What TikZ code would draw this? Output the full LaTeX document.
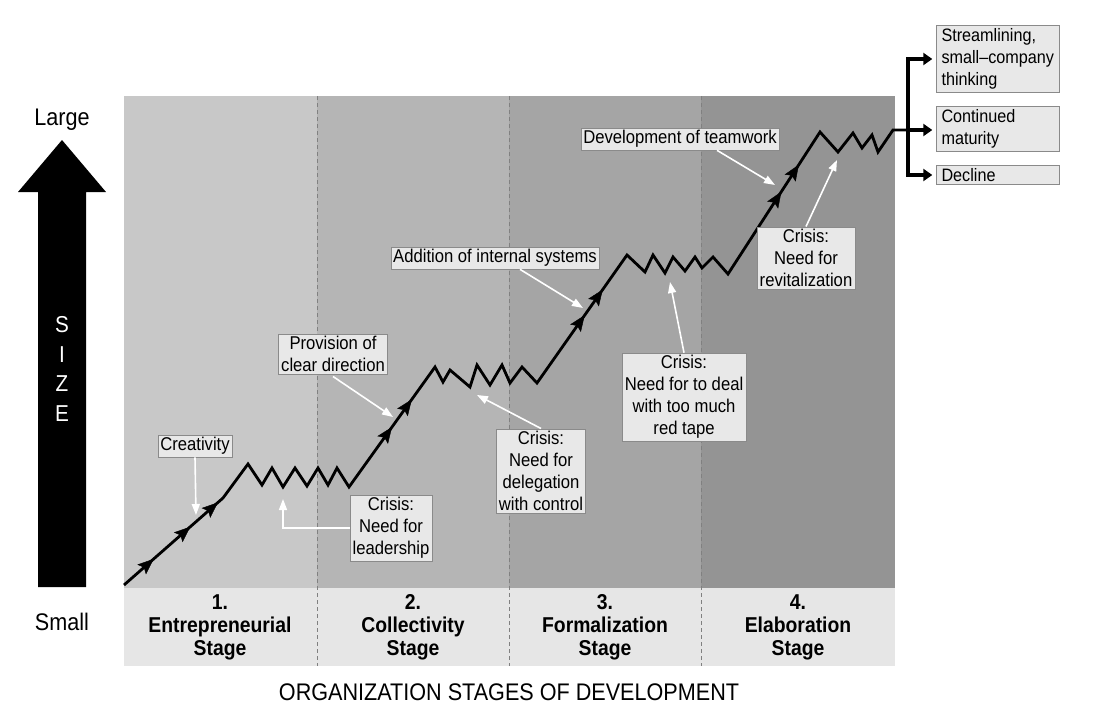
\documentclass[tikz,border=0pt]{standalone}
\usepackage{fontspec}
\setmainfont{Liberation Sans}[FakeStretch=0.9]
\usepackage{xcolor}
\usetikzlibrary{arrows.meta, decorations.markings, calc}

\definecolor{stageA}{HTML}{C8C8C8}
\definecolor{stageB}{HTML}{B5B5B5}
\definecolor{stageC}{HTML}{A5A5A5}
\definecolor{stageD}{HTML}{949494}
\definecolor{stripgray}{HTML}{E6E6E6}
\definecolor{notegray}{HTML}{E8E8E8}
\definecolor{noteline}{HTML}{8A8A8A}

\tikzset{hd/.tip={Stealth[length=16pt,width=13pt,inset=3pt]}}

\begin{document}
\begin{tikzpicture}[x=1pt, y=-1pt,
    every node/.style={font=\fontsize{18.5}{22}\selectfont},
    note/.style={draw=noteline, fill=notegray, align=center, inner sep=2.5pt},
    outcome/.style={draw=noteline, fill=notegray, align=left, inner xsep=5pt, inner ysep=3pt,
      text width=113pt, font=\fontsize{18}{22}\selectfont},
    stagelbl/.style={align=center, font=\fontsize{21.5}{23}\selectfont\bfseries},
    axislbl/.style={font=\fontsize{24}{28}\selectfont},
    growth/.style={line width=2.8pt, line join=miter},
    warr/.style={draw=white, line width=1.6pt, -{Triangle[length=11pt,width=8pt]}},
    brk/.style={line width=4pt, line join=miter, -{Triangle[length=9pt,width=12pt]}, shorten >=4pt},
    divider/.style={draw=gray, line width=1pt, dash pattern=on 4pt off 3pt}
]
\useasboundingbox (0,0) rectangle (1093,723);

% stage panels
\fill[stageA] (124,96) rectangle (317,588);
\fill[stageB] (317,96) rectangle (509,588);
\fill[stageC] (509,96) rectangle (701,588);
\fill[stageD] (701,96) rectangle (895,588);
\fill[stripgray] (124,588) rectangle (895,666);
\foreach \x in {317,509,701}
  \draw[divider] (\x,96) -- (\x,666);

\node[stagelbl] (st1) at (220,627) {1.\\Entrepreneurial\\Stage};
\node[stagelbl] (st2) at (413,627) {2.\\Collectivity\\Stage};
\node[stagelbl] (st3) at (605,627) {3.\\Formalization\\Stage};
\node[stagelbl] (st4) at (798,627) {4.\\Elaboration\\Stage};
\node[axislbl] (title) at (509,692) {ORGANIZATION STAGES OF DEVELOPMENT};

% size arrow
\fill (38,587) -- (38,192) -- (18,192) -- (62,140) -- (106,192) -- (86,192) -- (86,587) -- cycle;
\node[axislbl] (large) at (62,120) {Large};
\node[axislbl] (small) at (62,622) {Small};
\node[white, align=center, font=\fontsize{23}{29.5}\selectfont] (size) at (62,369) {S\\I\\Z\\E};

% growth curve
\coordinate (g0) at (124,585);
\coordinate (g1) at (223,498);
\coordinate (g2) at (349,487);
\coordinate (g3) at (435,367);
\coordinate (g4) at (537,383);
\coordinate (g5) at (627,255);
\coordinate (g6) at (728,274);
\coordinate (g7) at (820,132);
\coordinate (fork) at (908,130);
\draw[growth] (g0) -- (g1) -- (248,464) -- (262,485) -- (272,468) -- (283,487) -- (295,468)
  -- (307,486) -- (318,468) -- (328,485) -- (337,468) -- (g2)
  -- (g3) -- (443,382) -- (450,370) -- (470,387) -- (477,365) -- (490,385) -- (502,365)
  -- (510,383) -- (522,367) -- (g4)
  -- (g5) -- (645,272) -- (653,255) -- (665,273) -- (673,257) -- (685,271) -- (695,257)
  -- (702,268) -- (713,257) -- (g6)
  -- (g7) -- (838,152) -- (853,133) -- (862,148) -- (872,135) -- (878,152) -- (893,130) -- (fork);
\path[postaction={decorate}, decoration={markings,
  mark=at position 0.3 with {\arrow{hd}}, mark=at position 0.67 with {\arrow{hd}},
  mark=at position 0.95 with {\arrow{hd}}}] (g0) -- (g1);
\path[postaction={decorate}, decoration={markings,
  mark=at position 0.5 with {\arrow{hd}}, mark=at position 0.73 with {\arrow{hd}}}] (g2) -- (g3);
\path[postaction={decorate}, decoration={markings,
  mark=at position 0.53 with {\arrow{hd}}, mark=at position 0.73 with {\arrow{hd}}}] (g4) -- (g5);
\path[postaction={decorate}, decoration={markings,
  mark=at position 0.58 with {\arrow{hd}}, mark=at position 0.77 with {\arrow{hd}}}] (g6) -- (g7);

% notes
\node[note] (creat)  at (195,446) {Creativity};
\node[note] (provis) at (333,354) {Provision of\\clear direction};
\node[note] (lead)   at (391,528) {Crisis:\\Need for\\leadership};
\node[note] (addit)  at (495,258) {Addition of internal systems};
\node[note] (deleg)  at (541,471) {Crisis:\\Need for\\delegation\\with control};
\node[note] (redtape) at (684,397) {Crisis:\\Need for to deal\\with too much\\red tape};
\node[note] (team)   at (680,139) {Development of teamwork};
\node[note] (revit)  at (806,258) {Crisis:\\Need for\\revitalization};

\coordinate (t1) at (196,515);
\coordinate (t2) at (283,499);
\coordinate (t3) at (393,417);
\coordinate (t4) at (477,395);
\coordinate (t5) at (583,308);
\coordinate (t6) at (670,282);
\coordinate (t7) at (775,185);
\coordinate (t8) at (837,160);
\draw[warr] (creat.south) -- (t1);
\draw[warr] (lead.west) -| (t2);
\draw[warr] (provis.south) ++(0,2) -- (t3);
\draw[warr] (deleg.north) -- (t4);
\draw[warr] (addit.south) ++(25,0) -- (t5);
\draw[warr] (redtape.north) -- (t6);
\draw[warr] (team.south) ++(37,0) -- (t7);
\draw[warr] (revit.north) -- (t8);

% outcomes
\node[outcome] (slim)    at (998,59)  {Streamlining,\\\mbox{small–company}\\thinking};
\node[outcome] (mature)  at (998,129) {Continued\\maturity};
\node[outcome] (decline) at (998,175) {Decline};
\draw[brk] (fork) |- (slim.west);
\draw[brk] (fork) -- (mature.west |- fork);
\draw[brk] (fork) |- (decline.west);
\end{tikzpicture}
\end{document}
